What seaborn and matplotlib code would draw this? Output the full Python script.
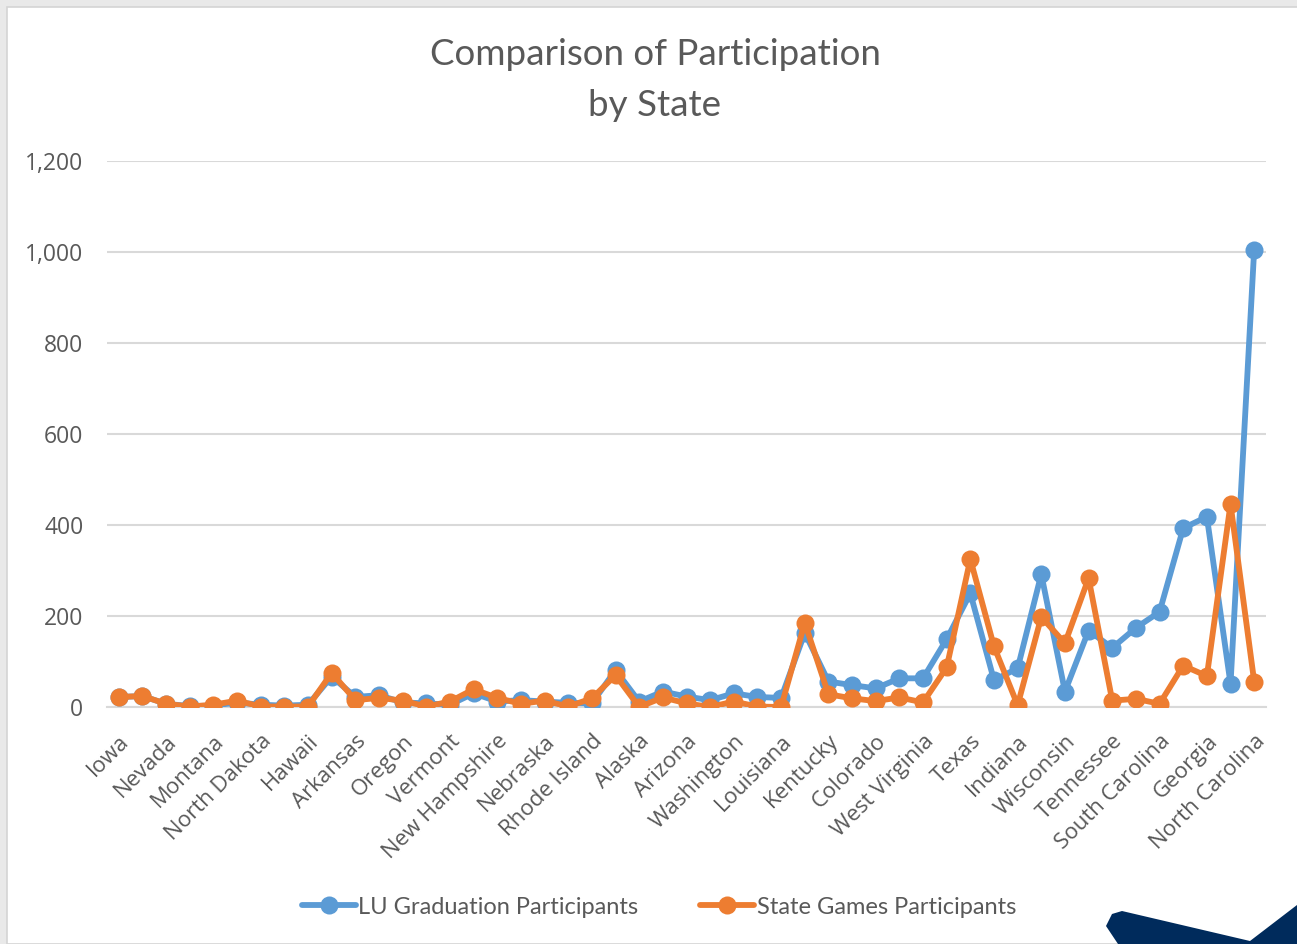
import numpy as np
import pandas as pd
import matplotlib
matplotlib.use("Agg")
import matplotlib.pyplot as plt
import matplotlib.ticker as mticker
from matplotlib.patches import Rectangle, Polygon
from matplotlib.lines import Line2D
import seaborn as sns

# states in chart order (only every other one is labelled on the axis)
states = [
    "Iowa", "Wyoming", "Nevada", "Idaho", "Montana", "South Dakota",
    "North Dakota", "Delaware", "Hawaii", "Mississippi", "Arkansas", "Maine",
    "Oregon", "Utah", "Vermont", "New Mexico", "New Hampshire", "Kansas",
    "Nebraska", "Connecticut", "Rhode Island", "Oklahoma", "Alaska", "Minnesota",
    "Arizona", "Missouri", "Washington", "Massachusetts", "Louisiana", "Alabama",
    "Kentucky", "Michigan", "Colorado", "Illinois", "West Virginia", "New Jersey",
    "Texas", "California", "Indiana", "Ohio", "Wisconsin", "New York",
    "Tennessee", "Maryland", "South Carolina", "Pennsylvania", "Georgia", "Florida",
    "North Carolina",
]

lu_graduation = [
    22, 24, 7, 2, 3, 10, 5, 3, 5, 67, 22, 26,
    10, 8, 5, 30, 12, 15, 12, 9, 8, 81, 12, 34,
    23, 15, 30, 22, 20, 163, 56, 48, 41, 63, 63, 149,
    250, 59, 85, 292, 34, 168, 130, 174, 209, 393, 418, 51,
    1005,
]

state_games = [
    22, 24, 7, 1, 5, 14, 1, 1, 1, 75, 15, 20,
    14, 1, 12, 39, 20, 7, 14, 1, 19, 70, 0, 21,
    8, 0, 12, 1, 0, 185, 28, 19, 13, 21, 10, 87,
    325, 133, 4, 198, 140, 283, 14, 18, 7, 91, 68, 446,
    56,
]

series_names = ["LU Graduation Participants", "State Games Participants"]
colors = ["#5B9BD5", "#ED7D31"]
text_color = "#595959"

df = pd.DataFrame({
    "state": states * 2,
    "value": lu_graduation + state_games,
    "series": [series_names[0]] * len(states) + [series_names[1]] * len(states),
})

sns.set_theme(style="white")
plt.rcParams["font.family"] = ["Open Sans", "DejaVu Sans"]

fig = plt.figure(figsize=(12.97, 9.44), dpi=100)
fig.patch.set_facecolor("#E9E9E9")

# white chart area with a thin border, like the slide it came from
W, H = 1297, 944
fig.patches.append(Rectangle((7 / W, 0), 1, 1 - 7 / H, transform=fig.transFigure,
                             facecolor="white", edgecolor="#D4D4D4", lw=1.2, zorder=-2))
# navy decoration in the bottom right corner
navy = [(1106, 926), (1112, 914), (1122, 911), (1250, 941), (1297, 905),
        (1297, 944), (1118, 944)]
fig.patches.append(Polygon([(x / W, 1 - y / H) for x, y in navy], closed=True,
                           transform=fig.transFigure, facecolor="#002B5C",
                           edgecolor="none", zorder=-1))

ax = fig.add_axes([107 / W, 1 - 707 / H, (1266 - 107) / W, (707 - 161) / H])
ax.set_facecolor("none")
ax.set_zorder(2)

LW, MS = 4.2, 13
sns.lineplot(data=df, x="state", y="value", hue="series", palette=colors,
             sort=False, marker="o", ax=ax, legend=False, zorder=3)
# seaborn rescales line/marker sizes, so set them on the artists directly
for line in ax.lines:
    line.set_linewidth(LW)
    line.set_markersize(MS)
    line.set_markeredgewidth(0)
    line.set_solid_joinstyle("round")

ax.set_xlim(-0.5, len(states) - 0.5)
ax.set_ylim(0, 1200)
ax.yaxis.set_major_locator(mticker.MultipleLocator(200))
ax.yaxis.set_major_formatter(mticker.FuncFormatter(lambda v, p: f"{int(v):,}"))
ax.grid(axis="y", color="#D9D9D9", linewidth=1.5)
ax.grid(axis="x", visible=False)
ax.set_axisbelow(True)
for side in ["top", "right", "left"]:
    ax.spines[side].set_visible(False)
ax.spines["bottom"].set_color("#D9D9D9")
ax.spines["bottom"].set_linewidth(1.5)

ax.set_xticks(range(0, len(states), 2))
ax.set_xticklabels(states[::2], rotation=45, ha="right", va="top",
                   rotation_mode="anchor", fontsize=16, color=text_color)
ax.tick_params(axis="x", length=0, pad=17)
ax.tick_params(axis="y", length=0, pad=17, labelsize=16.5, labelcolor=text_color)
ax.set_xlabel("")
ax.set_ylabel("")

fig.text(0.505, 1 - 80 / H, "Comparison of Participation\nby State", ha="center",
         va="center", fontsize=26.5, color=text_color, linespacing=1.7,
         family=["Lato", "DejaVu Sans"])

handles = [Line2D([0], [0], color=c, lw=LW, marker="o", markersize=MS,
                  markeredgewidth=0) for c in colors]
fig.legend(handles, series_names, loc="center",
           bbox_to_anchor=(0.508, 1 - 907 / H), ncol=2, frameon=False,
           handlelength=2.3, handletextpad=0.1, columnspacing=2.6,
           prop={"family": ["Lato", "DejaVu Sans"], "size": 17},
           labelcolor=text_color)

fig.savefig("out.png", dpi=100, facecolor=fig.get_facecolor())
